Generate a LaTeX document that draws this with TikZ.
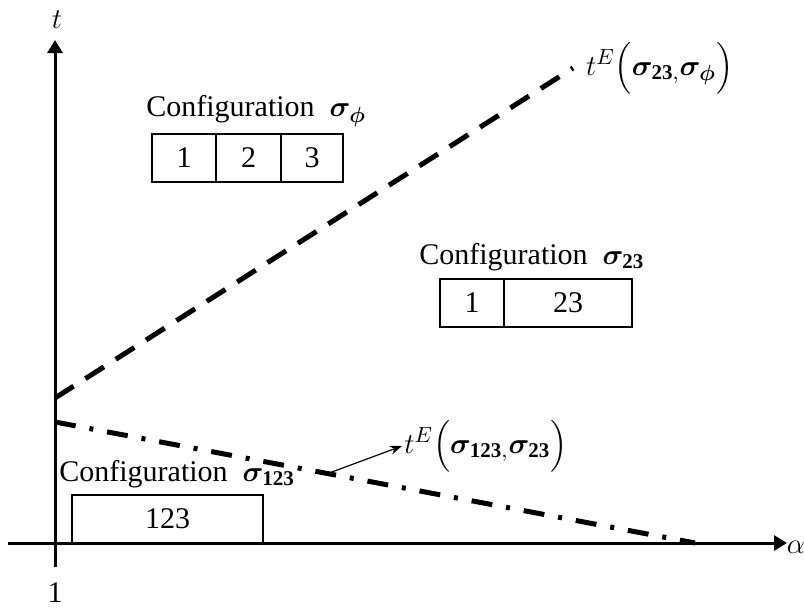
\documentclass[tikz,border=0pt]{standalone}
\usepackage{amsmath,bm}
\usepackage{fontspec}
\setmainfont{Liberation Serif}
\usetikzlibrary{arrows.meta,positioning}
\tikzset{
    axis/.style={line width=1.5pt, -{Triangle[length=6.5pt,width=7.5pt]}},
    bound/.style={line width=2.5pt, dash pattern=on 11pt off 7pt},
    bounddot/.style={line width=2.5pt, dash pattern=on 10.5pt off 7pt on 2pt off 7pt},
    cell/.style={draw, line width=1pt, inner sep=0pt, outer sep=0pt, minimum height=24pt},
    conf/.style={anchor=west, inner sep=0pt},
    pointer/.style={line width=0.6pt, -{Stealth[length=6pt,width=4.5pt]}}
}

\begin{document}
\begin{tikzpicture}[x=0.5pt, y=-0.5pt, font=\fontsize{15}{17}\selectfont]
    \useasboundingbox (0,0) rectangle (804,607);

    % Axes
    \coordinate (xl) at (8,543);
    \coordinate (xr) at (787,543);
    \coordinate (yb) at (55,567);
    \coordinate (yt) at (55,40);
    \draw[axis] (xl) -- (xr);
    \draw[axis] (yb) -- (yt);
    \node (tlab) at (57,20) {$t$};
    \node (alab) at (796,547) {$\alpha$};
    \node (one) at (55,593) {1};

    % Boundary lines
    \coordinate (d0) at (55,398);
    \coordinate (d1) at (573,68);
    \draw[bound] (d0) -- (d1);
    \node[anchor=west] (lab1) at (579,68) {$t^{E}\Bigl(\bm{\sigma}_{\mathbf{23},}\bm{\sigma}_{\bm{\phi}}\Bigr)$};

    \coordinate (c0) at (55,422);
    \coordinate (c1) at (695,543);
    \draw[bounddot] (c0) -- (c1);
    \path (c0) -- (c1) coordinate[pos=0.426] (p);
    \node[anchor=west, inner sep=1pt] (lab2) at (402,446) {$t^{E}\Bigl(\bm{\sigma}_{\mathbf{123},}\bm{\sigma}_{\mathbf{23}}\Bigr)$};
    \draw[pointer] (p) -- (lab2.west);

    % Configuration sigma_phi
    \node[conf] (cphi) at (146,111) {Configuration\enspace $\bm{\sigma}_{\bm{\phi}}$};
    \node[cell, minimum width=32pt, anchor=north west] (s1) at (152,134) {1};
    \node[cell, minimum width=32.5pt, right=0pt of s1] (s2) {2};
    \node[cell, minimum width=31pt, right=0pt of s2] (s3) {3};

    % Configuration sigma_23
    \node[conf] (c23) at (419,257) {Configuration\enspace $\bm{\sigma}_{\mathbf{23}}$};
    \node[cell, minimum width=32pt, anchor=north west] (u1) at (440,279) {1};
    \node[cell, minimum width=64pt, right=0pt of u1] (u23) {23};

    % Configuration sigma_123
    \node[conf] (c123) at (59,474) {Configuration\enspace $\bm{\sigma}_{\mathbf{123}}$};
    \node[cell, minimum width=95.5pt, anchor=north west] (w123) at (72,495) {123};
\end{tikzpicture}
\end{document}
